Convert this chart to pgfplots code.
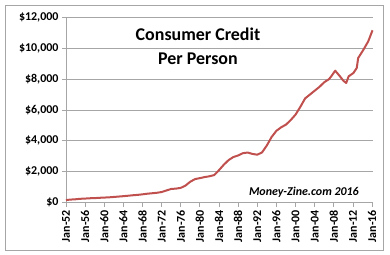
\documentclass[border=0pt]{standalone}
\usepackage{fontspec}
\setmainfont{Carlito}
\usepackage{pgfplots}
\pgfplotsset{compat=1.18}
\definecolor{linered}{RGB}{192,80,77}
\definecolor{gridgray}{RGB}{166,166,166}
\begin{document}
\begin{tikzpicture}[x=1bp,y=1bp]
\path[use as bounding box] (-66,-52.5) rectangle (324,202.5);
\draw[gridgray,line width=0.8bp] (-61,-48) rectangle (317,197.5);
\begin{axis}[
  at={(0,0)}, anchor=south west,
  scale only axis, width=307bp, height=185bp,
  xmin=1952, xmax=2016.2, ymin=0, ymax=12000,
  scaled y ticks=false,
  axis x line*=bottom, axis y line*=left,
  axis line style={gridgray, line width=0.8bp},
  tick style={gridgray, line width=0.8bp},
  tick align=outside, major tick length=4bp,
  ymajorgrids, grid style={gridgray, line width=0.8bp},
  xtick={1952,1956,...,2016},
  xticklabels={Jan-52,Jan-56,Jan-60,Jan-64,Jan-68,Jan-72,Jan-76,Jan-80,Jan-84,Jan-88,Jan-92,Jan-96,Jan-00,Jan-04,Jan-08,Jan-12,Jan-16},
  ytick={0,2000,...,12000},
  yticklabels={{\$0},{\$2,000},{\$4,000},{\$6,000},{\$8,000},{\$10,000},{\$12,000}},
  x tick label style={rotate=90, anchor=east, font=\bfseries\fontsize{12}{14}\selectfont},
  y tick label style={font=\bfseries\fontsize{12}{14}\selectfont},
  /pgf/number format/assume math mode=true,
  clip=false,
]
\addplot[linered, line width=2bp, line join=round] coordinates {
(1952.0,160) (1953,190) (1954,210) (1955,240) (1956,255) (1957,275) (1958,285) (1959,305)
(1960,320) (1961,335) (1962,360) (1963,385) (1964,410) (1965,440) (1966,470) (1967,495)
(1968,530) (1969,570) (1970,600) (1971,630) (1972,680) (1973,780) (1974,880) (1975,900)
(1976,950) (1977,1100) (1978,1350) (1979,1520) (1980,1580) (1981,1650) (1982,1700) (1983,1780)
(1984,2100) (1985,2450) (1986,2750) (1987,2950) (1988,3050) (1989,3200) (1990,3240) (1991,3150)
(1992,3100) (1993,3250) (1994,3700) (1995,4250) (1996,4650) (1997,4880) (1998,5050) (1999,5350)
(2000,5700) (2001,6200) (2002,6750) (2003,7000) (2004,7250) (2005,7500) (2006,7800) (2007,8000)
(2007.5,8200) (2008.3,8550) (2009.3,8180) (2010,7900) (2010.6,7750) (2011.1,8180) (2012.1,8400)
(2012.8,8720) (2013.1,9370) (2014.2,9910) (2015.2,10450) (2016.1,11170)
};
\node[font=\bfseries\fontsize{18}{24}\selectfont, align=center] at (rel axis cs:0.43,0.846) {Consumer Credit\\Per Person};
\node[font=\bfseries\itshape\fontsize{12}{14}\selectfont] at (rel axis cs:0.775,0.057) {Money-Zine.com 2016};
\end{axis}
\end{tikzpicture}
\end{document}
